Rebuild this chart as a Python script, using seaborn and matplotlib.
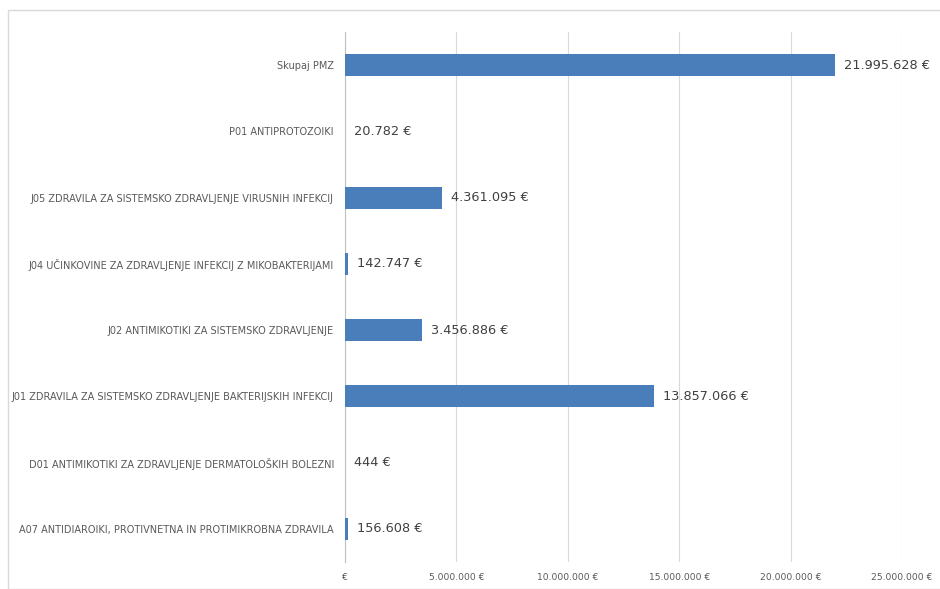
import numpy as np
import pandas as pd
import seaborn as sns
import matplotlib.pyplot as plt
from matplotlib.patches import Rectangle
from matplotlib.ticker import FuncFormatter

categories = [
    "Skupaj PMZ",
    "P01 ANTIPROTOZOIKI",
    "J05 ZDRAVILA ZA SISTEMSKO ZDRAVLJENJE VIRUSNIH INFEKCIJ",
    "J04 UČINKOVINE ZA ZDRAVLJENJE INFEKCIJ Z MIKOBAKTERIJAMI",
    "J02 ANTIMIKOTIKI ZA SISTEMSKO ZDRAVLJENJE",
    "J01 ZDRAVILA ZA SISTEMSKO ZDRAVLJENJE BAKTERIJSKIH INFEKCIJ",
    "D01 ANTIMIKOTIKI ZA ZDRAVLJENJE DERMATOLOŠKIH BOLEZNI",
    "A07 ANTIDIAROIKI, PROTIVNETNA IN PROTIMIKROBNA ZDRAVILA",
]
values = [21995628, 20782, 4361095, 142747, 3456886, 13857066, 444, 156608]
x_ticks = [0, 5000000, 10000000, 15000000, 20000000, 25000000]


def eur(v):
    s = f"{int(round(v)):,}".replace(",", ".")
    return f"{s} €"


df = pd.DataFrame({"kategorija": categories, "vrednost": values})

sns.set_style("white")
plt.rcParams['font.family'] = ['DejaVu Sans']

fig = plt.figure(figsize=(9.4, 5.89), dpi=100)
fig.patches.append(Rectangle((8 / 940, 0), 1, 1 - 10 / 589, transform=fig.transFigure,
                             fill=False, edgecolor="#d9d9d9", linewidth=1.0))
ax = fig.add_axes([345 / 940, 27 / 589, 557 / 940, 530 / 589])

sns.barplot(data=df, x="vrednost", y="kategorija", orient="h", color="#4a7ebb",
            saturation=1, width=0.33, linewidth=0, edgecolor="none", ax=ax, zorder=3)

ax.set_xlim(0, 25000000)
ax.set_xticks(x_ticks)
ax.xaxis.set_major_formatter(FuncFormatter(lambda v, p: "€" if v == 0 else eur(v)))
ax.grid(axis="x", color="#d9d9d9", linewidth=0.8, zorder=0)
ax.set_xlabel("")
ax.set_ylabel("")
for side in ["top", "right", "bottom"]:
    ax.spines[side].set_visible(False)
ax.spines["left"].set_color("#bfbfbf")
ax.spines["left"].set_linewidth(0.8)
ax.tick_params(axis="x", length=0, labelsize=6.6, labelcolor="#595959", pad=8)
ax.tick_params(axis="y", length=0, labelsize=7.0, labelcolor="#595959", pad=8)

for i, v in enumerate(values):
    ax.text(v + 400000, i, eur(v), va="center", ha="left", fontsize=9.3, color="#404040")

fig.savefig("out.png", dpi=100)
